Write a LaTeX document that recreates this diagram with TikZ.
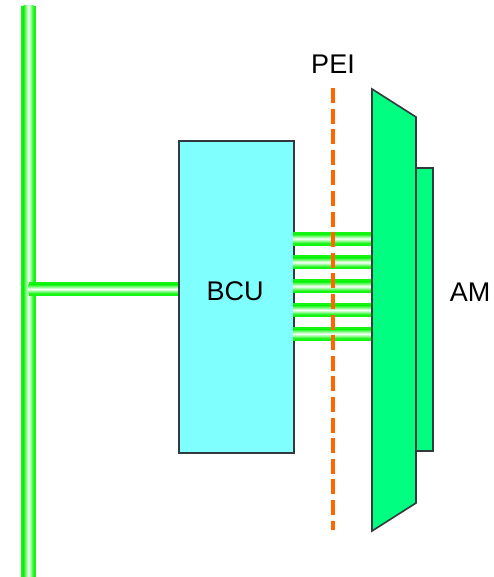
\documentclass[tikz,border=0pt]{standalone}
\usepackage{fontspec}
\setmainfont{Liberation Sans}
\definecolor{tubegreen}{RGB}{20,245,20}
\definecolor{bcucyan}{RGB}{128,255,255}
\definecolor{amgreen}{RGB}{0,255,128}
\definecolor{edgegray}{RGB}{50,58,64}
\definecolor{peiorange}{RGB}{255,102,0}
\tikzset{
  tubefill/.style={fill=tubegreen},
  htube/.style={top color=tubegreen, bottom color=tubegreen, middle color=white},
  vtube/.style={left color=tubegreen, right color=tubegreen, middle color=white},
  label/.style={font=\fontsize{27}{32}\selectfont, inner sep=0pt},
  boxedge/.style={draw=edgegray, line width=1.6pt},
}
\begin{document}
\begin{tikzpicture}[x=1pt,y=-1pt]
\useasboundingbox (0,0) rectangle (493,577);
% vertical bus
\coordinate (bustop) at (28.5,6);
\coordinate (busbot) at (28.5,577);
\fill[tubefill] (21,6) rectangle (36,577);
\shade[vtube] (23.5,6) rectangle (33.5,577);
% horizontal bus to BCU
\coordinate (busjoin) at (28.5,289);
\fill[tubefill] (28.5,282) rectangle (178,296);
\shade[htube] (28.5,284.5) rectangle (178,293.5);
% BCU
\node[boxedge, fill=bcucyan, minimum width=115pt, minimum height=312pt, inner sep=0pt, anchor=north west] (bcu) at (178,140) {};
\node[label] (bcutext) at (235,291) {BCU};
% parallel tubes BCU - AM
\foreach \c in {238.7,262.3,286.3,310,333.8}{
  \fill[tubefill] (293,\c-7) rectangle (372,\c+7);
  \shade[htube] (293,\c-4.5) rectangle (372,\c+4.5);
}
% AM back rectangle
\draw[boxedge, fill=amgreen] (416,168) rectangle (433,451);
% AM trapezoid
\draw[boxedge, fill=amgreen, line join=miter] (372,89) -- (416,117) -- (416,503) -- (372,531) -- cycle;
\coordinate (amc) at (394,310);
\node[label] (am) at (470,292) {AM};
% PEI line
\node[label] (pei) at (333,64) {PEI};
\coordinate (peitop) at (333,88);
\coordinate (peibot) at (333,530);
\draw[peiorange, line width=4.5pt, dash pattern=on 15pt off 5.6pt] (peitop) -- (peibot);
\end{tikzpicture}
\end{document}
